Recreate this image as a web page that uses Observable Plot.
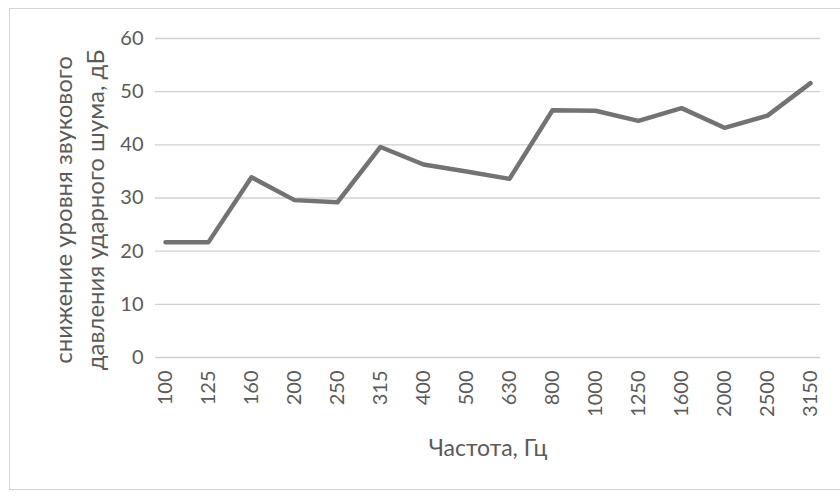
<!DOCTYPE html>
<html>
<head>
<meta charset="utf-8">
<script src="https://cdn.jsdelivr.net/npm/d3@7"></script>
<script src="https://cdn.jsdelivr.net/npm/@observablehq/plot@0.6"></script>
<style>
  html, body { margin: 0; padding: 0; background: #fff; }
  #wrap { position: relative; width: 840px; height: 497px; overflow: hidden; }
  #frame { position: absolute; left: 9px; top: 8px; width: 840px; height: 482px; border: 1px solid #d4d4d4; box-sizing: border-box; pointer-events: none; }
  #chart { position: absolute; left: 0; top: 0; }
</style>
</head>
<body>
<div id="wrap"><div id="chart"></div><div id="frame"></div></div>
<script>
const frequencies = ["100","125","160","200","250","315","400","500","630","800","1000","1250","1600","2000","2500","3150"];
const reduction = [21.7, 21.7, 33.9, 29.6, 29.2, 39.6, 36.3, 35.0, 33.6, 46.5, 46.4, 44.5, 46.9, 43.2, 45.5, 51.6];
const yTicks = [0, 10, 20, 30, 40, 50, 60];
const xTitle = "Частота, Гц";
const yTitle = "снижение уровня звукового\nдавления ударного шума, дБ";

const data = frequencies.map((f, i) => ({f, v: reduction[i]}));

const chart = Plot.plot({
  width: 840,
  height: 497,
  marginLeft: 155,
  marginRight: 20,
  marginTop: 38,
  marginBottom: 140,
  style: {fontFamily: "Lato, 'Open Sans', sans-serif", fontSize: "20px", color: "#555", background: "transparent"},
  x: {type: "point", domain: frequencies, padding: 0.18},
  y: {domain: [0, 60]},
  marks: [
    Plot.gridY(yTicks, {stroke: "#d0d0d0", strokeOpacity: 1, strokeWidth: 1.3}),
    Plot.axisY(yTicks, {tickSize: 0, tickPadding: 12, label: null, fontSize: 20, fill: "#5a5a5a"}),
    Plot.axisX({tickSize: 0, tickPadding: 13, tickRotate: -90, label: null, fontSize: 20, fill: "#5a5a5a"}),
    Plot.text([xTitle], {frameAnchor: "bottom", dy: 91, fontSize: 23, fill: "#5a5a5a", lineAnchor: "middle"}),
    Plot.line(data, {x: "f", y: "v", stroke: "#737373", strokeWidth: 4.5, strokeLinejoin: "round"}),
    Plot.text([yTitle], {frameAnchor: "left", rotate: -90, dx: -78, dy: 12, lineHeight: 1.33, fontSize: 24, fill: "#5a5a5a", textAnchor: "middle"})
  ]
});
document.getElementById("chart").appendChild(chart);
</script>
</body>
</html>
